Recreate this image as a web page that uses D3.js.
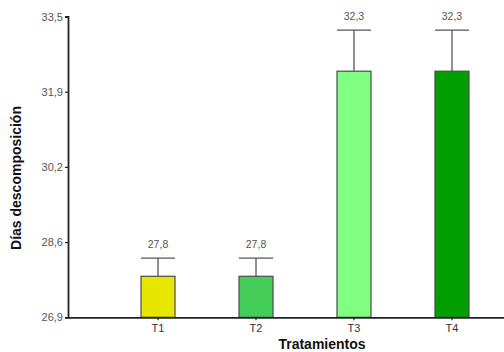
<!DOCTYPE html>
<html>
<head>
<meta charset="utf-8">
<script src="https://cdn.jsdelivr.net/npm/d3@7"></script>
<style>
  html, body { margin: 0; padding: 0; background: #fff; }
  svg { display: block; font-family: "Liberation Sans", Arial, sans-serif; }
</style>
</head>
<body>
<svg id="chart" width="504" height="352"></svg>
<script>
// Treatments, mean days to decomposition and error-bar half widths
const categories = ["T1", "T2", "T3", "T4"];
const means = [27.8, 27.8, 32.3, 32.3];
const errors = [0.4, 0.4, 0.9, 0.9];
const barColors = ["#e6e600", "#45cd5a", "#80ff80", "#009e00"];
const valueLabels = ["27,8", "27,8", "32,3", "32,3"];
const yTickValues = [26.9, 28.55, 30.2, 31.85, 33.5];
const yTickLabels = ["26,9", "28,6", "30,2", "31,9", "33,5"];

const svg = d3.select("#chart");

const x = d3.scaleBand()
  .domain(categories)
  .range([68, 542])
  .paddingInner(0.653)
  .paddingOuter(0.745);

const y = d3.scaleLinear()
  .domain([26.9, 33.5])
  .range([317.3, 16.5]);

// Bars
svg.append("g")
  .selectAll("rect")
  .data(categories)
  .join("rect")
  .attr("x", d => x(d))
  .attr("y", (d, i) => y(means[i]))
  .attr("width", x.bandwidth())
  .attr("height", (d, i) => y(26.9) - y(means[i]))
  .attr("fill", (d, i) => barColors[i])
  .attr("stroke", "#4a4a4a")
  .attr("stroke-width", 1.2);

// Error bars (upper whisker with cap)
const eb = svg.append("g")
  .attr("stroke", "#555")
  .attr("stroke-width", 1.3);
eb.selectAll("line.stem")
  .data(categories)
  .join("line")
  .attr("class", "stem")
  .attr("x1", d => x(d) + x.bandwidth() / 2)
  .attr("x2", d => x(d) + x.bandwidth() / 2)
  .attr("y1", (d, i) => y(means[i]))
  .attr("y2", (d, i) => y(means[i] + errors[i]));
eb.selectAll("line.cap")
  .data(categories)
  .join("line")
  .attr("class", "cap")
  .attr("x1", d => x(d))
  .attr("x2", d => x(d) + x.bandwidth())
  .attr("y1", (d, i) => y(means[i] + errors[i]))
  .attr("y2", (d, i) => y(means[i] + errors[i]));

// Value labels above the caps
svg.append("g")
  .selectAll("text")
  .data(categories)
  .join("text")
  .attr("x", d => x(d) + x.bandwidth() / 2)
  .attr("y", (d, i) => y(means[i] + errors[i]) - 10)
  .attr("text-anchor", "middle")
  .attr("font-size", 10.5)
  .attr("fill", "#555")
  .text((d, i) => valueLabels[i]);

// Y axis
const yAxis = svg.append("g")
  .attr("transform", "translate(68,0)")
  .call(d3.axisLeft(y)
    .tickValues(yTickValues)
    .tickFormat((d, i) => yTickLabels[i])
    .tickSize(3)
    .tickPadding(2));
yAxis.select(".domain").attr("stroke", "#222").attr("stroke-width", 1.8);
yAxis.selectAll(".tick line").attr("stroke", "#222").attr("stroke-width", 1.2);
yAxis.selectAll(".tick text")
  .attr("font-size", 11)
  .attr("fill", "#555")
  .attr("font-family", "Liberation Sans, Arial, sans-serif");

// X axis
const xAxis = svg.append("g")
  .attr("transform", "translate(0,317.3)")
  .call(d3.axisBottom(x).tickSize(3).tickSizeOuter(0).tickPadding(4));
xAxis.select(".domain").attr("stroke", "#222").attr("stroke-width", 1.8);
xAxis.selectAll(".tick line").attr("stroke", "#222").attr("stroke-width", 1.2);
xAxis.selectAll(".tick text")
  .attr("font-size", 11)
  .attr("fill", "#333")
  .attr("font-family", "Liberation Sans, Arial, sans-serif");

// Axis titles
svg.append("text")
  .attr("transform", "translate(21,178) rotate(-90)")
  .attr("text-anchor", "middle")
  .attr("font-size", 14)
  .attr("font-weight", "bold")
  .attr("fill", "#111")
  .text("Días descomposición");

svg.append("text")
  .attr("x", 322)
  .attr("y", 349)
  .attr("text-anchor", "middle")
  .attr("font-size", 14)
  .attr("font-weight", "bold")
  .attr("fill", "#111")
  .text("Tratamientos");
</script>
</body>
</html>
